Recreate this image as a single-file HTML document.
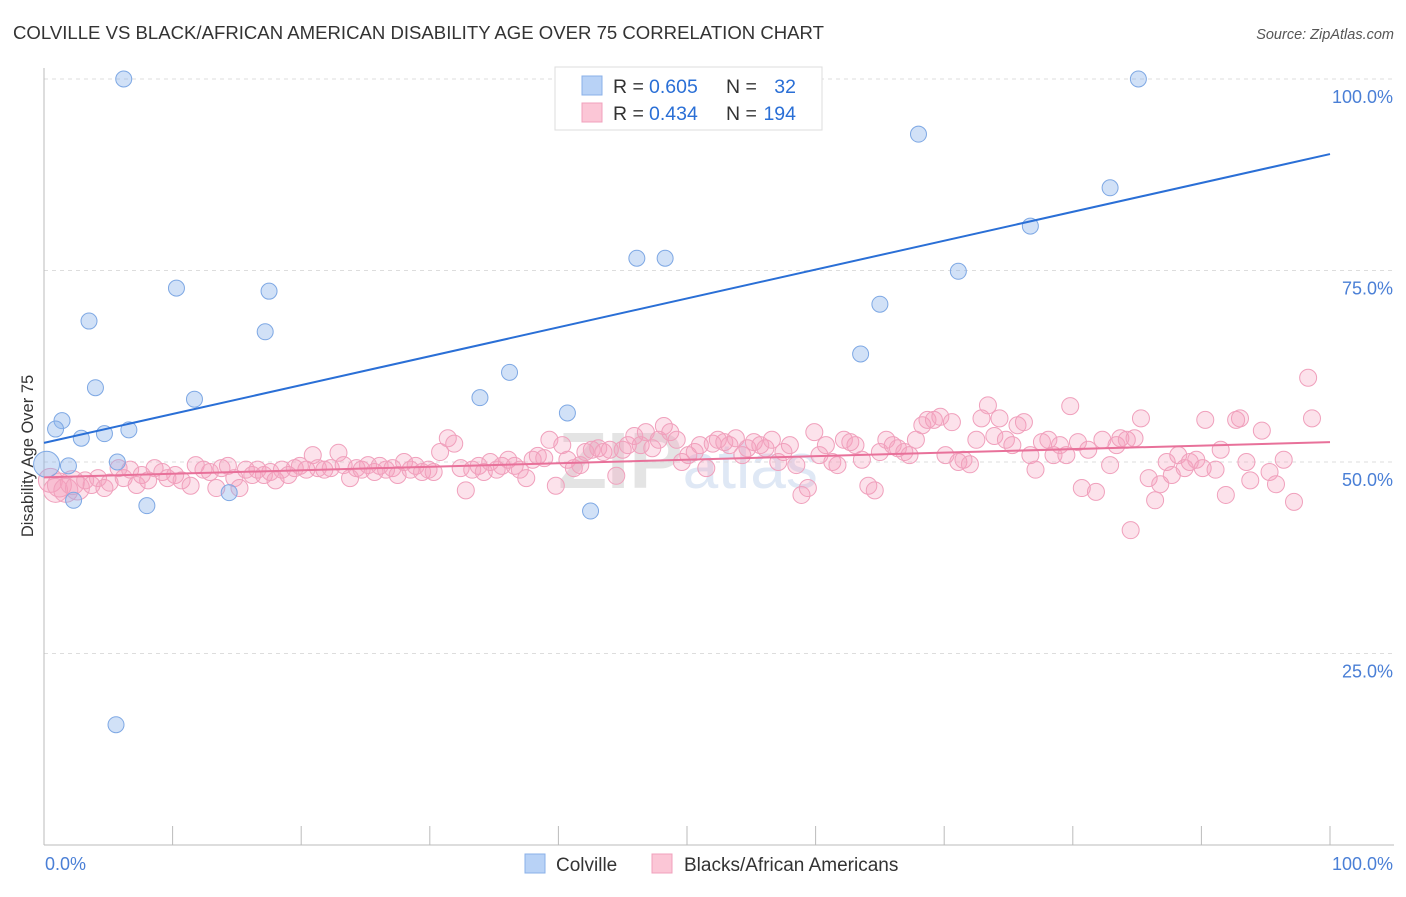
<!DOCTYPE html>
<html><head><meta charset="utf-8"><style>
body{margin:0;background:#fff;font-family:"Liberation Sans",sans-serif;}
svg text{font-family:"Liberation Sans",sans-serif;}
</style></head><body>
<svg id="chart" width="1406" height="892" viewBox="0 0 1406 892" xmlns="http://www.w3.org/2000/svg">
<text x="13" y="39" font-size="18" fill="#333" textLength="811" lengthAdjust="spacingAndGlyphs">COLVILLE VS BLACK/AFRICAN AMERICAN DISABILITY AGE OVER 75 CORRELATION CHART</text>
<text x="1394" y="39" font-size="14.5" fill="#555" text-anchor="end" font-style="italic">Source: ZipAtlas.com</text>
<text x="688" y="488" font-size="80" fill="#e4e4e4" text-anchor="middle" font-family="Liberation Serif" font-weight="bold">ZIP<tspan fill="#dfe8f5" font-family="Liberation Sans" font-weight="normal" font-size="64">atlas</tspan></text>
<g id="grid"></g>
<g id="axes"></g>
<g id="pts"></g>
<g id="lines"></g>
<text transform="translate(33,456) rotate(-90)" font-size="16.5" fill="#333" text-anchor="middle">Disability Age Over 75</text>
<g>
<rect x="555" y="67" width="267" height="63" fill="#fff" stroke="#ddd"/>
<rect x="582" y="76" width="20" height="19" fill="#b8d2f6" stroke="#8ab0e8"/>
<rect x="582" y="103" width="20" height="19" fill="#fbc6d6" stroke="#f0a0bc"/>
<text x="613" y="93" font-size="19.5" fill="#333">R =</text>
<text x="649" y="93" font-size="19.5" fill="#2a6fd6">0.605</text>
<text x="726" y="93" font-size="19.5" fill="#333">N =</text>
<text x="796" y="93" font-size="19.5" fill="#2a6fd6" text-anchor="end">32</text>
<text x="613" y="120" font-size="19.5" fill="#333">R =</text>
<text x="649" y="120" font-size="19.5" fill="#2a6fd6">0.434</text>
<text x="726" y="120" font-size="19.5" fill="#333">N =</text>
<text x="796" y="120" font-size="19.5" fill="#2a6fd6" text-anchor="end">194</text>
</g>
<text x="45" y="870" font-size="18" fill="#4a7fd6">0.0%</text>
<text x="1393" y="870" font-size="18" fill="#4a7fd6" text-anchor="end">100.0%</text>
<g>
<rect x="525" y="854" width="20" height="19" fill="#b8d2f6" stroke="#8ab0e8"/>
<text x="556" y="871" font-size="19" fill="#333">Colville</text>
<rect x="652" y="854" width="20" height="19" fill="#fbc6d6" stroke="#f0a0bc"/>
<text x="684" y="871" font-size="19" fill="#333">Blacks/African Americans</text>
</g>
</svg>
<script>
const yTicks=[25,50,75,100];
const yTickLabels=["25.0%","50.0%","75.0%","100.0%"];
const xTicks=[0,10,20,30,40,50,60,70,80,90,100];
const colvilleX=[6.2,85.1,68.0,82.9,76.7,46.1,48.3,71.1,10.3,17.5,65.0,3.5,17.2,63.5,36.2,4.0,11.7,33.9,40.7,1.4,0.9,6.6,4.7,2.9,0.2,1.9,5.7,14.4,2.3,8.0,42.5,5.6];
const colvilleY=[100,100,92.8,85.8,80.8,76.6,76.6,74.9,72.7,72.3,70.6,68.4,67.0,64.1,61.7,59.7,58.2,58.4,56.4,55.4,54.3,54.2,53.7,53.1,49.7,49.5,50.0,46.0,45.0,44.3,43.6,15.7];
const blackPts=[[0.5,47.6],[0.9,46.3],[1.2,47.0],[1.7,46.3],[2.2,47.3],[2.6,46.6],[3.2,47.6],[3.7,47.0],[4.2,47.9],[4.7,46.6],[5.1,47.3],[5.8,49.2],[6.2,47.9],[6.7,49.0],[7.2,47.0],[7.6,48.3],[8.1,47.6],[8.6,49.2],[9.2,48.7],[9.6,47.9],[10.2,48.3],[10.7,47.6],[11.4,46.9],[11.8,49.6],[12.4,49.0],[12.9,48.7],[13.4,46.6],[13.8,49.2],[14.3,49.5],[14.8,47.9],[15.2,46.6],[15.7,49.0],[16.2,48.3],[16.6,49.0],[17.1,48.3],[17.6,48.7],[18.0,47.6],[18.5,49.0],[19.0,48.3],[19.5,49.2],[19.9,49.5],[20.4,49.0],[20.9,50.9],[21.3,49.2],[21.8,49.0],[22.3,49.2],[22.9,51.2],[23.3,49.6],[23.8,47.9],[24.3,49.2],[24.7,49.0],[25.2,49.6],[25.7,48.7],[26.1,49.5],[26.6,49.0],[27.1,49.2],[27.5,48.3],[28.0,50.0],[28.5,49.0],[28.9,49.5],[29.4,48.7],[29.9,49.0],[30.3,48.7],[30.8,51.3],[31.4,53.1],[31.9,52.4],[32.4,49.2],[32.8,46.3],[33.3,49.0],[33.8,49.5],[34.2,48.7],[34.7,50.0],[35.2,49.0],[35.6,49.5],[36.1,50.3],[36.6,49.5],[37.0,49.0],[37.5,47.9],[38.0,50.3],[38.4,50.8],[38.9,50.5],[39.3,52.9],[39.8,46.9],[40.3,52.2],[40.7,50.3],[41.2,49.2],[41.7,49.6],[42.1,51.3],[42.6,51.6],[43.1,51.8],[43.5,51.3],[44.0,51.6],[44.5,48.2],[45.0,51.6],[45.4,52.2],[45.9,53.4],[46.4,52.2],[46.8,53.9],[47.3,51.8],[47.8,52.9],[48.2,54.7],[48.7,53.9],[49.2,52.9],[49.6,50.0],[50.1,50.9],[50.6,51.3],[51.0,52.2],[51.5,49.2],[52.0,52.4],[52.4,52.9],[52.9,52.6],[53.3,52.2],[53.8,53.1],[54.3,50.9],[54.7,51.8],[55.2,52.6],[55.7,52.2],[56.1,51.8],[56.6,52.9],[57.1,50.0],[57.5,51.3],[58.0,52.2],[58.5,49.6],[58.9,45.7],[59.4,46.6],[59.9,53.9],[60.3,50.9],[60.8,52.2],[61.3,50.0],[61.7,49.6],[62.2,52.9],[62.7,52.6],[63.1,52.2],[63.6,50.3],[64.1,46.9],[64.6,46.3],[65.0,51.3],[65.5,52.9],[66.0,52.2],[66.4,51.8],[66.9,51.3],[67.3,50.9],[67.8,52.9],[68.3,54.8],[68.7,55.5],[69.2,55.5],[69.7,55.9],[70.1,50.9],[70.6,55.2],[71.1,50.0],[71.5,50.3],[72.0,49.7],[72.5,52.9],[72.9,55.7],[73.4,57.4],[73.9,53.4],[74.3,55.7],[74.8,52.9],[75.3,52.2],[75.7,54.8],[76.2,55.2],[76.7,50.9],[77.1,49.0],[77.6,52.6],[78.1,52.9],[78.5,50.9],[79.0,52.2],[79.5,50.9],[79.8,57.3],[80.4,52.6],[80.7,46.6],[81.2,51.6],[81.8,46.1],[82.3,52.9],[82.9,49.6],[83.4,52.2],[83.7,53.1],[84.2,52.9],[84.5,41.1],[84.8,53.1],[85.3,55.7],[85.9,47.9],[86.4,45.0],[86.8,47.1],[87.3,50.0],[87.7,48.3],[88.2,50.9],[88.7,49.2],[89.1,50.0],[89.6,50.3],[90.1,49.2],[90.3,55.5],[91.1,49.0],[91.5,51.6],[91.9,45.7],[92.7,55.5],[93.0,55.7],[93.5,50.0],[93.8,47.6],[94.7,54.1],[95.3,48.7],[95.8,47.1],[96.4,50.3],[97.2,44.8],[98.3,61.0],[98.6,55.7]];
const blueLine=[52.5,90.2];
const pinkLine=[48.0,52.6];

const NS="http://www.w3.org/2000/svg";
const X0=44,X1=1330,Y0=845,PXY=7.66;
const xs=v=>X0+v*(X1-X0)/100;
const ys=v=>Y0-v*PXY;
function mk(tag,attrs,parent){const e=document.createElementNS(NS,tag);for(const k in attrs)e.setAttribute(k,attrs[k]);document.getElementById(parent).appendChild(e);return e;}

yTicks.forEach((t,i)=>{
  const l=mk('line',{x1:X0,x2:1394,y1:ys(t),y2:ys(t),stroke:'#ddd','stroke-dasharray':'4,4'},'grid');
  
  
  const tx=mk('text',{x:1393,y:ys(t)+24,'font-size':18,fill:'#4a7fd6','text-anchor':'end'},'grid');
  tx.textContent=yTickLabels[i];
  
  
});
let ax=mk('line',{x1:X0,x2:X0,y1:68,y2:Y0,stroke:'#bbb'},'axes');


ax=mk('line',{x1:X0,x2:1394,y1:Y0,y2:Y0,stroke:'#bbb'},'axes');


xTicks.forEach(t=>{
  const l=mk('line',{x1:xs(t),x2:xs(t),y1:826,y2:Y0,stroke:'#bbb'},'axes');
  
  
});
blackPts.forEach((p,i)=>{
  const c=mk('circle',{cx:xs(p[0]),cy:ys(p[1]),r:i<6?12:8.5,fill:'rgba(244,160,188,0.3)',stroke:'#f0a0bc','stroke-width':1},'pts');
  
  
});
colvilleX.forEach((x,i)=>{
  const c=mk('circle',{cx:xs(x),cy:ys(colvilleY[i]),r:i===24?13:8,fill:'rgba(140,180,236,0.4)',stroke:'#7ea8e4','stroke-width':1},'pts');
  
  
});
let ln=mk('line',{x1:xs(0),y1:ys(blueLine[0]),x2:xs(100),y2:ys(blueLine[1]),stroke:'#2a6fd6','stroke-width':2},'lines');


ln=mk('line',{x1:xs(0),y1:ys(pinkLine[0]),x2:xs(100),y2:ys(pinkLine[1]),stroke:'#e8719a','stroke-width':2},'lines');


</script>
</body></html>
